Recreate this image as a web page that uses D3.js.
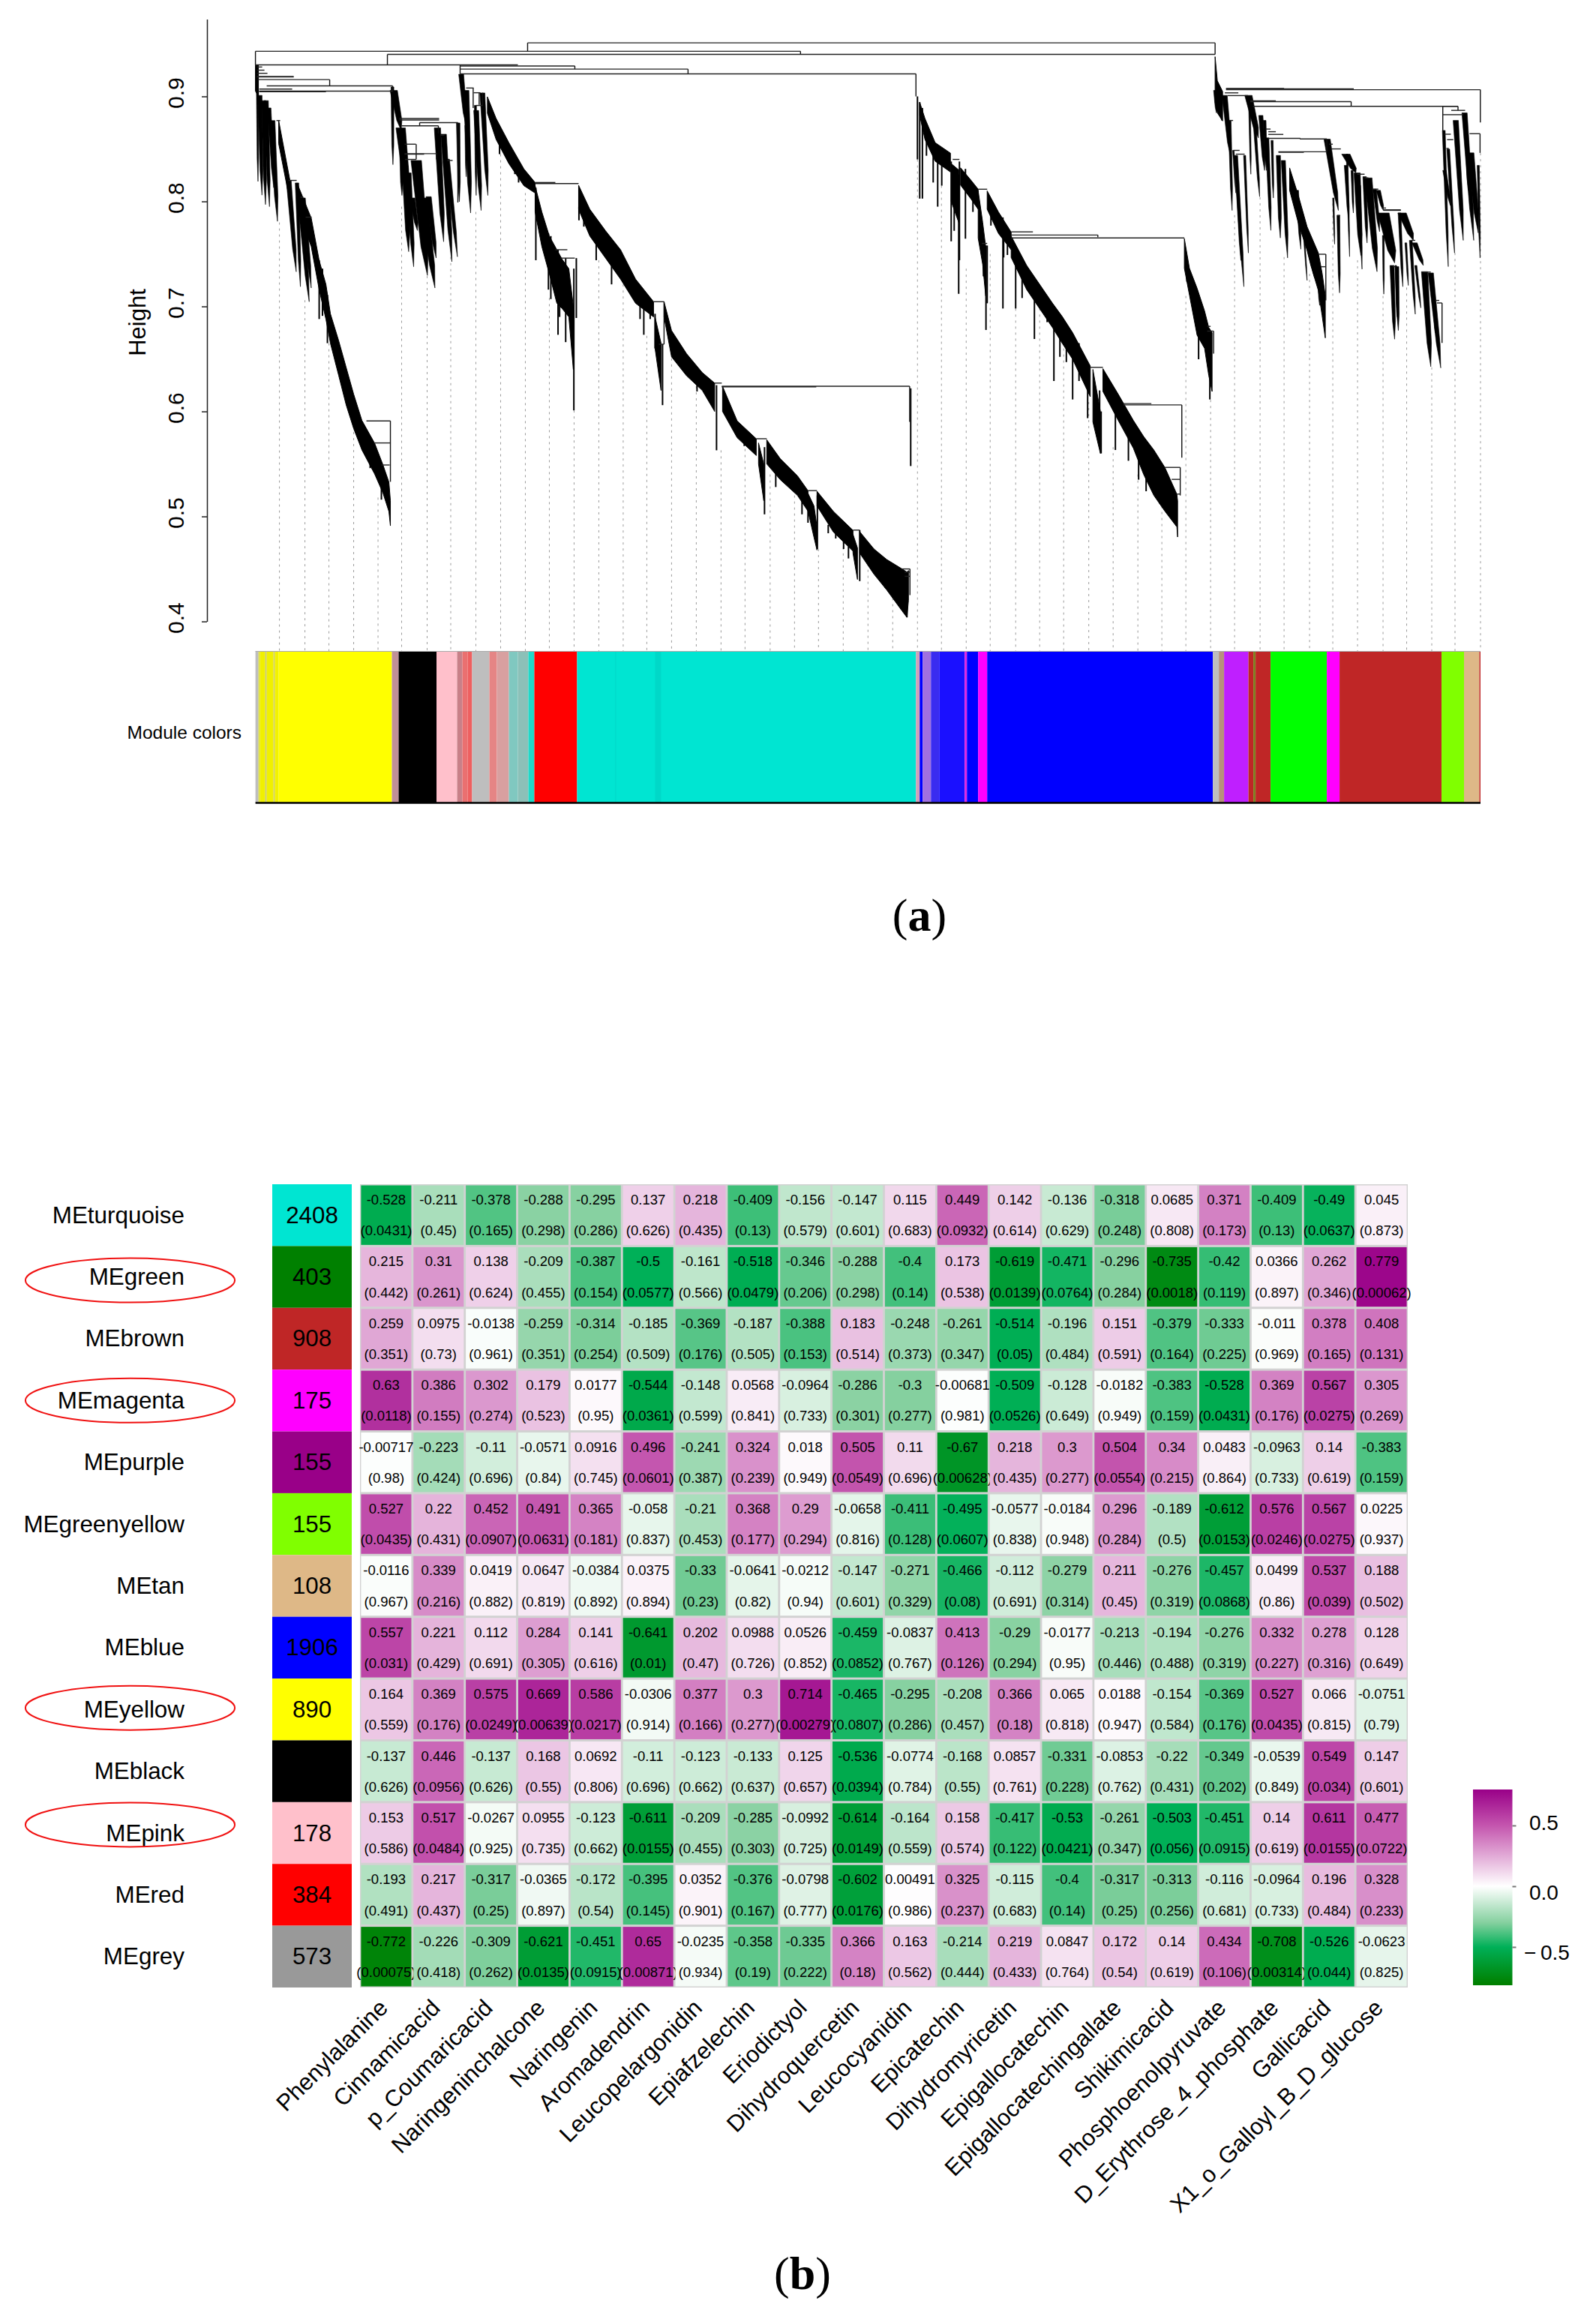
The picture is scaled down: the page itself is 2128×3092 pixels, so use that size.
<!DOCTYPE html>
<html>
<head>
<meta charset="utf-8">
<script src="https://cdnjs.cloudflare.com/ajax/libs/d3/7.8.5/d3.min.js"></script>
<style>
html, body { margin: 0; padding: 0; background: #fff; }
svg { display: block; }
text { font-family: "Liberation Sans", Arial, sans-serif; fill: #000; }
</style>
</head>
<body>
<svg id="figure" width="2128" height="3092"></svg>
<script>
// =============================================================================
// Panel (a): gene dendrogram + module colors. Panel (b): module-trait heatmap
// =============================================================================

// --- panel (a) data: x is leaf position along the tree, y is merge height ---

const heightTicks = [0.4, 0.5, 0.6, 0.7, 0.8, 0.9];

// [x0, x1, height]
const treeBars = [
    [363, 1280, .951], [0, 727, .943], [176, 1280, .940], [0, 350, .930], [273, 426, .929], [273, 577, .926], [273, 881, .9215],
    [2, 9, .928], [2, 12, .925], [2, 16, .922], [2, 51, .919], [2, 51, .9185], [3, 99, .916], [15, 183, .91], [5, 49, .907], [5, 183, .905], [5, 94, .9045],
    [28, 33, .877], [44, 55, .82], [60, 64, .804], [67, 75, .785], [148, 180, .591], [158, 180, .570], [168, 179, .549],
    [192, 245, .879], [192, 245, .8775], [219, 270, .875], [195, 244, .872], [199, 214, .8545], [199, 242, .8455], [199, 225, .845], [199.5, 214.4, .840], [247, 252, .863], [256, 263, .839],
    [281, 291, .908], [291, 300, .9035], [294.4, 303, .8914], [373, 431, .817], [373, 400, .818], [400, 416, .754], [407, 426, .746],
    [531, 545, .7045], [538, 545, .664], [612.5, 622, .627], [622, 872.6, .624], [622, 748, .6235], [668, 682, .574], [737, 749, .5246], [797, 806, .487],
    [862, 873, .45], [866, 873, .447], [866, 873, .443],
    [930, 939, .84], [964, 976, .8116], [969, 976, .76], [1008, 1037, .771], [1008, 1123.6, .768], [1008, 1239, .7652], [1113.5, 1130.4, .642],
    [1157.6, 1235.6, .6062], [1157.6, 1195, .6075], [1213, 1233.5, .5467], [1222, 1233.5, .5353], [1229, 1233.5, .5213], [1269.5, 1274, .681], [1269.5, 1278, .6765],
    [1294.6, 1372, .9075], [1294.6, 1465, .9072], [1294.6, 1633.8, .9064], [1293, 1311, .9034], [1296.6, 1323.8, .9008], [1299, 1304, .8771], [1304.4, 1312.7, .8486], [1307.7, 1319.4, .845],
    [1327, 1361, .8957], [1327, 1461.5, .895], [1330.6, 1604, .8906], [1347.5, 1354, .8689], [1351, 1361, .8664], [1351, 1371, .8638], [1351, 1393.7, .86], [1393, 1429, .8595], [1364.5, 1429, .8473], [1364.5, 1398.4, .8468],
    [1417.7, 1427.7, .7497], [1421, 1427.7, .7378], [1432, 1437, .8545], [1434.4, 1447.7, .85], [1442.7, 1446.7, .7867],
    [1469.4, 1479.4, .8259], [1479.4, 1484.4, .8224], [1489.4, 1497.7, .8117], [1502, 1508, .7937], [1504.4, 1527.7, .792], [1504.4, 1527.7, .7915],
    [1541, 1547, .7629], [1557.7, 1567.7, .7327], [1574, 1579, .7057], [1576, 1582.7, .7033], [1517, 1521, .7379],
    [1583.7, 1604, .8906], [1583.7, 1611, .8826], [1595, 1613.5, .8867], [1586, 1594.4, .864], [1589.4, 1597.7, .8588], [1588.4, 1591.7, .8505], [1619.4, 1633.4, .8645]
];

// [x, top height, bottom height]
const treeLegs = [
    [363, .951, .943], [1280, .951, .940], [0, .943, .930], [727, .943, .940], [176, .940, .930], [426, .929, .926], [577, .926, .9215], [273, .930, .9215], [881, .9215, .900],
    [99, .916, .910], [183, .91, .905], [180, .591, .533], [219, .875, .872], [244, .872, .865], [270, .875, .799], [214.4, .8545, .84], [241.5, .8455, .84],
    [290.4, .908, .889], [298.4, .9035, .892], [303, .9035, .8914],
    [545, .7045, .664], [872.6, .624, .59], [1123.6, .768, .766], [1235.6, .6062, .556], [1233.5, .5467, .52], [1278, .6765, .655],
    [873, .45, .425], [1633.8, .9064, .8753], [1461.5, .895, .8906], [1604, .8906, .8868], [1429, .8595, .8473], [1427.7, .7497, .7057],
    [1582.7, .7033, .6652], [1583.7, .8906, .8676], [1633.4, .8645, .8462]
];

// thin hanging branches: [x, top height, bottom height]
const treeSpikes = [
    [85, .744, .688], [89.4, .736, .691], [96, .711, .665], [108, .665, .645], [118, .640, .625], [124, .627, .614], [136, .591, .583], [144, .584, .563], [153, .566, .546], [168, .533, .516],
    [325.6, .859, .845], [346, .836, .826], [351, .833, .818],
    [374, .813, .744], [380.6, .792, .767], [390.8, .7695, .716], [394, .767, .707], [403.6, .754, .673], [405.7, .736, .690], [413.8, .746, .666], [424.7, .736, .601], [428, .746, .689],
    [431.5, .795, .782], [438, .785, .776], [454.5, .772, .744], [468, .765, .75], [475, .754, .721], [483, .746, .733], [513, .708, .688], [518, .706, .673], [526.5, .698, .688],
    [533, .693, .66], [538.6, .665, .634], [543, .664, .606], [577, .647, .638], [589, .634, .619], [615, .625, .563],
    [652, .584, .567], [679, .566, .502], [694, .5455, .528], [729, .52, .502], [737, .515, .494], [749.5, .52, .469],
    [764, .492, .484], [774, .484, .479], [784.5, .479, .469], [791, .4715, .46], [806, .487, .4384], [840, .446, .432], [849, .438, .4256], [856, .428, .418], [869, .43, .4039], [874, .622, .548],
    [883, .90, .84], [886, .8945, .8027], [889.6, .889, .8027], [895, .869, .8435], [904, .851, .818], [910, .846, .795], [915.4, .838, .815],
    [928, .838, .762], [932, .828, .772], [938, .8256, .712], [939, .838, .744], [947, .831, .7645], [957, .813, .79],
    [966, .7873, .7593], [971, .7593, .7287], [974.4, .758, .6776], [976, .758, .703], [981, .7873, .777], [997, .7848, .698], [998, .7746, .7466], [1003, .772, .749],
    [1014, .739, .698], [1022.6, .7363, .708], [1039, .7236, .669], [1056, .7032, .685], [1065, .7, .629], [1073, .677, .652], [1081.6, .672, .647], [1090, .672, .6114], [1098.5, .665, .629], [1110, .6395, .5936],
    [1126, .62, .566], [1128, .60, .56], [1147, .60, .5633], [1164.4, .58, .553], [1178, .566, .535], [1188, .553, .524], [1206.4, .54, .512], [1215, .5276, .5047],
    [1242.4, .7363, .7236], [1258, .675, .6497], [1273, .6548, .6114]
];

// tapered fans of leaves: [x top, height top, x tip, height tip, width]
const treeBlades = [
    [2.7, .906, 3.4, .819, 2], [6, .901, 8.7, .806, 4], [11, .896, 13.4, .797, 4], [14.4, .896, 18.7, .795, 4], [18.4, .889, 24.4, .813, 3.3], [22.7, .877, 29.4, .781, 4.7],
    [43, .82, 44, .807, 1.5], [44.4, .82, 54.4, .733, 4.7], [55.4, .8176, 60, .7188, 3.3], [59.4, .8033, 71.7, .7045, 4.7], [63.7, .8033, 74.4, .7176, 4],
    [182.7, .909, 183.4, .835, 2.7], [184.4, .9057, 194.4, .8676, 7], [193.7, .87, 202.7, .8104, 9], [194.4, .8557, 195.4, .8057, 3.3], [199.4, .834, 204.4, .7521, 6],
    [204.4, .8271, 211, .7378, 4.7], [209.4, .8033, 216, .7723, 4.7], [214.4, .839, 229.4, .7295, 10], [224.4, .8033, 239.4, .7176, 7], [231, .8045, 241, .7461, 5],
    [242.7, .87, 251, .7616, 6], [251, .864, 262, .7426, 5.3], [256, .8402, 269.4, .7473, 4], [270.4, .8747, 272, .7997, 3.3],
    [274.4, .9211, 281, .8723, 4.7], [281, .9057, 287, .789, 5.3], [280.4, .8723, 281, .8235, 1.5], [294.4, .8866, 301, .7914, 4.7], [293.4, .8914, 294.4, .8057, 2], [302.7, .9033, 310, .8057, 4.7],
    [1279.4, .9057, 1281.7, .8843, 2], [1283.7, .9057, 1288.7, .8771, 2.7], [1292.7, .901, 1301, .8414, 5], [1299.4, .8771, 1302.7, .7914, 2.7], [1307.7, .8438, 1318.4, .7188, 3.3], [1309.4, .8152, 1314.4, .7438, 2], [1319.4, .8438, 1324.4, .7509, 2], [1304.4, .8486, 1307.7, .808, 1.5],
    [1324.4, .901, 1337.7, .8605, 7], [1326, .889, 1327.7, .8259, 1.7], [1332.7, .875, 1339.4, .8045, 2.7], [1341, .8819, 1346, .8295, 4], [1346, .8771, 1348.4, .8295, 2.7],
    [1349.4, .8605, 1354.4, .7724, 3.3], [1356, .8581, 1357.7, .8033, 2], [1364.4, .8438, 1367, .7652, 4], [1371, .839, 1376.7, .7462, 4],
    [1389.4, .8105, 1394.4, .7545, 2.7], [1397.7, .7771, 1402.7, .7248, 1.3], [1407.7, .7457, 1412.7, .7271, 1.5], [1417.7, .7271, 1419.4, .701, 1.5],
    [1429.4, .8593, 1444.4, .7914, 6], [1444.4, .7867, 1446, .7129, 2.7], [1437.7, .8033, 1439.4, .7593, 1.3],
    [1456, .845, 1459.4, .7474, 1.5], [1454.4, .8343, 1458.4, .7819, 3], [1462.7, .8295, 1464.4, .789, 2], [1454.4, .845, 1467.7, .8271, 8],
    [1469.4, .8271, 1474.4, .7486, 6], [1472.7, .8152, 1476, .7355, 2], [1479.4, .8236, 1482.7, .7605, 3.3], [1484.4, .8224, 1496, .7331, 7], [1492.7, .8117, 1499.4, .7712, 3.3], [1497.7, .8105, 1504.4, .7914, 4],
    [1504.4, .789, 1519.4, .7414, 11], [1504.4, .7676, 1505, .7117, 1.7], [1516, .739, 1519.4, .6688, 4], [1522.7, .7379, 1524.4, .6771, 3.3], [1521, .739, 1522.7, .6902, 1.5],
    [1526, .789, 1530.4, .7188, 2.7], [1529.4, .789, 1544.4, .7629, 8], [1534.4, .7605, 1537.7, .72, 1.7], [1541, .7629, 1547, .6926, 2.7], [1546, .7605, 1557.7, .739, 5], [1547.7, .739, 1554.4, .6986, 2],
    [1559.4, .7331, 1567.7, .6426, 6], [1567.7, .7319, 1581, .6414, 5], [1572.7, .6962, 1573.7, .6748, 1.5],
    [1585, .8676, 1591, .7379, 2.7], [1586, .8295, 1593.7, .7962, 3.3], [1591, .8498, 1599.4, .7509, 2.7], [1601, .8771, 1611, .7629, 5], [1612.7, .8843, 1625, .7629, 5], [1616, .8581, 1617.7, .8105, 2.7], [1621, .8462, 1631, .77, 6], [1631, .8343, 1633.4, .7462, 2]
];

// dense runs of the tree, each a list of [x, top height, bottom height]
const treeBands = [
    [[0, .93, .905], [4, .93, .90]],
    [[31, .877, .855], [46, .82, .80]],
    [[55.4, .8176, .795], [74.4, .7842, .757], [85, .7438, .7159], [94, .721, .6878], [100, .693, .6649], [111, .6674, .6343], [121, .6419, .6062], [131, .6164, .5837], [142, .5914, .5633], [159, .5697, .5404], [170, .5493, .5225], [178, .5327, .5047], [180, .5149, .4911]],
    [[309.4, .8996, .884], [321, .879, .859], [338, .856, .836], [358, .831, .815], [373, .818, .808]],
    [[373, .815, .79], [382, .79, .757], [392, .767, .731], [402, .754, .703], [409, .745, .698], [418, .736, .69], [424, .70, .64]],
    [[431, .8154, .7925], [446, .7925, .767], [467, .772, .746], [487, .754, .726], [507, .726, .703], [531, .7045, .690]],
    [[533, .69, .66], [541, .665, .62]],
    [[545, .7045, .69], [555, .677, .652], [575, .655, .634], [596, .637, .62], [612.5, .627, .60]],
    [[623, .624, .60], [642.5, .591, .575], [668, .574, .558]],
    [[671, .57, .55], [678, .55, .515]],
    [[682, .573, .55], [700, .555, .535], [723, .5386, .52], [737, .5245, .505]],
    [[737, .522, .505], [745, .51, .48], [749, .49, .468]],
    [[749, .524, .51], [771, .5047, .485], [797, .4868, .467]],
    [[797, .483, .465], [803, .47, .44]],
    [[806, .4855, .465], [825, .469, .445], [842, .459, .43], [862.5, .45, .41], [869, .447, .4039], [871, .4485, .42]],
    [[886, .8945, .882], [893, .879, .859], [906.6, .856, .8383], [927, .846, .828]],
    [[928, .836, .80], [938, .83, .78]],
    [[940.5, .832, .8155], [954, .8205, .8027], [964, .8116, .7925]],
    [[964, .81, .765], [970, .78, .74], [974, .757, .71]],
    [[976, .81, .7925], [991, .79, .7695], [1008, .7708, .754]],
    [[1008, .767, .7466], [1028.7, .739, .716], [1063, .7032, .680], [1076, .6905, .665], [1090, .675, .6497], [1113.5, .6433, .614]],
    [[1117, .64, .59], [1127, .60, .56]],
    [[1130.4, .6407, .619], [1150.8, .6164, .5914], [1171, .5914, .565], [1184.7, .5761, .54], [1198.3, .5633, .52], [1213, .5467, .505], [1229, .5212, .49], [1230, .515, .4804]],
    [[1239, .7645, .7363], [1245.8, .7363, .7108], [1256, .7173, .6726], [1266, .6956, .66], [1271.5, .68, .6343], [1276, .675, .619]],
    [[1280, .9378, .8945], [1283, .9149, .8843], [1290, .9047, .8766]],
    [[1379.4, .8319, .8105], [1391, .8057, .7795], [1402.7, .7759, .7533], [1407.7, .7676, .739], [1417.7, .751, .7152], [1422.7, .7319, .6914], [1427, .7105, .67]]
];

// dotted guides: [x, height where the guide leaves the tree]
const guideLines = [
    [32, .78], [66, .706], [98, .665], [131, .609], [163.5, .518], [195, .795], [229, .729], [260.5, .747], [294, .79], [327, .845],
    [360, .808], [392, .708], [425, .601], [458, .744], [490.5, .721], [522, .672], [555, .662], [588, .624], [621, .563], [653, .57],
    [686.5, .54], [719, .52], [751, .469], [784, .482], [817, .455], [850, .428], [883, .84], [915, .815], [948, .736], [980, .75],
    [1014, .698], [1046, .698], [1078, .66], [1111.5, .609], [1144, .566], [1177, .54], [1209, .51], [1241, .71], [1274, .611], [1306, .787],
    [1340, .804], [1372, .747], [1406, .731], [1437, .798], [1470, .744], [1504, .71], [1535.5, .718], [1569, .642], [1600, .751], [1634, .846]
];

// module color strip: [color, x0, x1]
const moduleStrip = [
    ["#bebebe", 0, 4], ["#d8d840", 4, 6], ["#f0f000", 6, 13], ["#c8c860", 13, 15], ["#f0f000", 15, 24], ["#d0d050", 24, 26], ["#f2f200", 26, 31],
    ["#ffff00", 31, 182], ["#c09098", 182, 191], ["#000000", 191, 241.5], ["#ffc0cb", 241.5, 269], ["#c88088", 269, 276], ["#ea7070", 276, 283], ["#ee6060", 283, 289],
    ["#bebebe", 289, 312], ["#e58585", 312, 322], ["#d8a0a0", 322, 338], ["#80c8c0", 338, 350], ["#8cc0b8", 350, 364], ["#20d8c8", 364, 372], ["#ff0000", 372, 429],
    ["#00e5d2", 429, 881], ["#00d8c8", 480, 481], ["#00d8c8", 533, 541],
    ["#d0a0b8", 881, 886], ["#0000ff", 886, 890], ["#a070e0", 890, 901], ["#3a2cf0", 901, 912], ["#1a10ff", 912, 946], ["#e020e0", 946, 949], ["#0000ff", 949, 964], ["#ff00ff", 964, 976],
    ["#0000ff", 976, 1277], ["#bebebe", 1277, 1285], ["#b8907c", 1285, 1292], ["#bf1fff", 1292, 1324.5], ["#bf2626", 1324.5, 1331], ["#7f7f20", 1331, 1334], ["#bf2626", 1334, 1354],
    ["#00ff00", 1354, 1429], ["#ff00ff", 1429, 1446], ["#bf2626", 1446, 1582], ["#80ff00", 1582, 1612], ["#deb887", 1612, 1632.5], ["#bf2626", 1632.5, 1634]
];

// --- panel (b) data ---

const moduleNames = ["MEturquoise", "MEgreen", "MEbrown", "MEmagenta", "MEpurple", "MEgreenyellow", "MEtan", "MEblue", "MEyellow", "MEblack", "MEpink", "MEred", "MEgrey"];
const moduleColors = ["#00e5d2", "#008000", "#bf2626", "#ff00ff", "#990088", "#80ff00", "#deb887", "#0000ff", "#ffff00", "#000000", "#ffc0cb", "#ff0000", "#999999"];
const moduleSizes = ["2408", "403", "908", "175", "155", "155", "108", "1906", "890", "", "178", "384", "573"];

const traitNames = ["Phenylalanine", "Cinnamicacid", "p_Coumaricacid", "Naringeninchalcone", "Naringenin", "Aromadendrin", "Leucopelargonidin", "Epiafzelechin", "Eriodictyol", "Dihydroquercetin", "Leucocyanidin", "Epicatechin", "Dihydromyricetin", "Epigallocatechin", "Epigallocatechingallate", "Shikimicacid", "Phosphoenolpyruvate", "D_Erythrose_4_phosphate", "Gallicacid", "X1_o_Galloyl_B_D_glucose"];

const correlations = [
    [-0.528, -0.211, -0.378, -0.288, -0.295, 0.137, 0.218, -0.409, -0.156, -0.147, 0.115, 0.449, 0.142, -0.136, -0.318, 0.0685, 0.371, -0.409, -0.49, 0.045],
    [0.215, 0.31, 0.138, -0.209, -0.387, -0.5, -0.161, -0.518, -0.346, -0.288, -0.4, 0.173, -0.619, -0.471, -0.296, -0.735, -0.42, 0.0366, 0.262, 0.779],
    [0.259, 0.0975, -0.0138, -0.259, -0.314, -0.185, -0.369, -0.187, -0.388, 0.183, -0.248, -0.261, -0.514, -0.196, 0.151, -0.379, -0.333, -0.011, 0.378, 0.408],
    [0.63, 0.386, 0.302, 0.179, 0.0177, -0.544, -0.148, 0.0568, -0.0964, -0.286, -0.3, -0.00681, -0.509, -0.128, -0.0182, -0.383, -0.528, 0.369, 0.567, 0.305],
    [-0.00717, -0.223, -0.11, -0.0571, 0.0916, 0.496, -0.241, 0.324, 0.018, 0.505, 0.11, -0.67, 0.218, 0.3, 0.504, 0.34, 0.0483, -0.0963, 0.14, -0.383],
    [0.527, 0.22, 0.452, 0.491, 0.365, -0.058, -0.21, 0.368, 0.29, -0.0658, -0.411, -0.495, -0.0577, -0.0184, 0.296, -0.189, -0.612, 0.576, 0.567, 0.0225],
    [-0.0116, 0.339, 0.0419, 0.0647, -0.0384, 0.0375, -0.33, -0.0641, -0.0212, -0.147, -0.271, -0.466, -0.112, -0.279, 0.211, -0.276, -0.457, 0.0499, 0.537, 0.188],
    [0.557, 0.221, 0.112, 0.284, 0.141, -0.641, 0.202, 0.0988, 0.0526, -0.459, -0.0837, 0.413, -0.29, -0.0177, -0.213, -0.194, -0.276, 0.332, 0.278, 0.128],
    [0.164, 0.369, 0.575, 0.669, 0.586, -0.0306, 0.377, 0.3, 0.714, -0.465, -0.295, -0.208, 0.366, 0.065, 0.0188, -0.154, -0.369, 0.527, 0.066, -0.0751],
    [-0.137, 0.446, -0.137, 0.168, 0.0692, -0.11, -0.123, -0.133, 0.125, -0.536, -0.0774, -0.168, 0.0857, -0.331, -0.0853, -0.22, -0.349, -0.0539, 0.549, 0.147],
    [0.153, 0.517, -0.0267, 0.0955, -0.123, -0.611, -0.209, -0.285, -0.0992, -0.614, -0.164, 0.158, -0.417, -0.53, -0.261, -0.503, -0.451, 0.14, 0.611, 0.477],
    [-0.193, 0.217, -0.317, -0.0365, -0.172, -0.395, 0.0352, -0.376, -0.0798, -0.602, 0.00491, 0.325, -0.115, -0.4, -0.317, -0.313, -0.116, -0.0964, 0.196, 0.328],
    [-0.772, -0.226, -0.309, -0.621, -0.451, 0.65, -0.0235, -0.358, -0.335, 0.366, 0.163, -0.214, 0.219, 0.0847, 0.172, 0.14, 0.434, -0.708, -0.526, -0.0623]
];

const pValues = [
    [0.0431, 0.45, 0.165, 0.298, 0.286, 0.626, 0.435, 0.13, 0.579, 0.601, 0.683, 0.0932, 0.614, 0.629, 0.248, 0.808, 0.173, 0.13, 0.0637, 0.873],
    [0.442, 0.261, 0.624, 0.455, 0.154, 0.0577, 0.566, 0.0479, 0.206, 0.298, 0.14, 0.538, 0.0139, 0.0764, 0.284, 0.0018, 0.119, 0.897, 0.346, 0.00062],
    [0.351, 0.73, 0.961, 0.351, 0.254, 0.509, 0.176, 0.505, 0.153, 0.514, 0.373, 0.347, 0.05, 0.484, 0.591, 0.164, 0.225, 0.969, 0.165, 0.131],
    [0.0118, 0.155, 0.274, 0.523, 0.95, 0.0361, 0.599, 0.841, 0.733, 0.301, 0.277, 0.981, 0.0526, 0.649, 0.949, 0.159, 0.0431, 0.176, 0.0275, 0.269],
    [0.98, 0.424, 0.696, 0.84, 0.745, 0.0601, 0.387, 0.239, 0.949, 0.0549, 0.696, 0.00628, 0.435, 0.277, 0.0554, 0.215, 0.864, 0.733, 0.619, 0.159],
    [0.0435, 0.431, 0.0907, 0.0631, 0.181, 0.837, 0.453, 0.177, 0.294, 0.816, 0.128, 0.0607, 0.838, 0.948, 0.284, 0.5, 0.0153, 0.0246, 0.0275, 0.937],
    [0.967, 0.216, 0.882, 0.819, 0.892, 0.894, 0.23, 0.82, 0.94, 0.601, 0.329, 0.08, 0.691, 0.314, 0.45, 0.319, 0.0868, 0.86, 0.039, 0.502],
    [0.031, 0.429, 0.691, 0.305, 0.616, 0.01, 0.47, 0.726, 0.852, 0.0852, 0.767, 0.126, 0.294, 0.95, 0.446, 0.488, 0.319, 0.227, 0.316, 0.649],
    [0.559, 0.176, 0.0249, 0.00639, 0.0217, 0.914, 0.166, 0.277, 0.00279, 0.0807, 0.286, 0.457, 0.18, 0.818, 0.947, 0.584, 0.176, 0.0435, 0.815, 0.79],
    [0.626, 0.0956, 0.626, 0.55, 0.806, 0.696, 0.662, 0.637, 0.657, 0.0394, 0.784, 0.55, 0.761, 0.228, 0.762, 0.431, 0.202, 0.849, 0.034, 0.601],
    [0.586, 0.0484, 0.925, 0.735, 0.662, 0.0155, 0.455, 0.303, 0.725, 0.0149, 0.559, 0.574, 0.122, 0.0421, 0.347, 0.056, 0.0915, 0.619, 0.0155, 0.0722],
    [0.491, 0.437, 0.25, 0.897, 0.54, 0.145, 0.901, 0.167, 0.777, 0.0176, 0.986, 0.237, 0.683, 0.14, 0.25, 0.256, 0.681, 0.733, 0.484, 0.233],
    [0.00075, 0.418, 0.262, 0.0135, 0.0915, 0.00871, 0.934, 0.19, 0.222, 0.18, 0.562, 0.444, 0.433, 0.764, 0.54, 0.619, 0.106, 0.00314, 0.044, 0.825]
];

// red rings round the picked modules: [module, fraction down its row]
const ringedModules = [["MEgreen", 0.555], ["MEmagenta", 0.5], ["MEyellow", 0.475], ["MEpink", 0.365]];

const colorStops = [-0.8, -0.5, -0.3, 0, 0.5, 0.8];
const colorRamp = ["#008000", "#00b058", "#85d09f", "#ffffff", "#c455ae", "#990088"];
const legendTicks = [-0.5, 0, 0.5];
const legendLabels = ["\u2212\u20090.5", "0.0", "0.5"];
const legendLabelShift = [8, 9, -3];

// =============================================================================

const svg = d3.select("#figure");

// --- Panel (a) ---

const xLeaf = d3.scaleLinear().domain([0, 1634]).range([340.6, 1974]);
const yHeight = d3.scaleLinear().domain([0.4, 0.9736]).range([828.6, 25.5]);

const treeGroup = svg.append("g");

treeGroup.selectAll("line.guide")
    .data(guideLines)
    .join("line")
    .attr("class", "guide")
    .attr("x1", d => xLeaf(d[0])).attr("x2", d => xLeaf(d[0]))
    .attr("y1", d => yHeight(d[1])).attr("y2", 868)
    .attr("stroke", "#9a9a9a")
    .attr("stroke-width", 1)
    .attr("stroke-dasharray", "3,5");

const bandArea = d3.area()
    .x(d => xLeaf(d[0]))
    .y0(d => yHeight(d[1]))
    .y1(d => yHeight(d[2]));

treeGroup.selectAll("path.band")
    .data(treeBands)
    .join("path")
    .attr("class", "band")
    .attr("d", bandArea)
    .attr("fill", "#000")
    .attr("stroke", "#000")
    .attr("stroke-width", 1);

// A blade keeps its body most of the way down, then closes to the tip
const bladeOutline = ([x0, h0, x1, h1, w0]) => {
    const w = w0 * 1.4;
    const hMid = h0 + (h1 - h0) * 0.75;
    const xMid = x0 + (x1 - x0) * 0.75;
    const pts = [[x0 - w / 2, h0], [x0 + w / 2, h0], [xMid + w * 0.35, hMid], [x1, h1], [xMid - w * 0.35, hMid]];
    return d3.line().x(p => xLeaf(p[0])).y(p => yHeight(p[1]))(pts) + "Z";
};

treeGroup.selectAll("path.blade")
    .data(treeBlades)
    .join("path")
    .attr("class", "blade")
    .attr("d", bladeOutline)
    .attr("fill", "#000")
    .attr("stroke", "#000")
    .attr("stroke-width", 0.6);

treeGroup.selectAll("line.spike")
    .data(treeSpikes)
    .join("line")
    .attr("class", "spike")
    .attr("x1", d => xLeaf(d[0])).attr("x2", d => xLeaf(d[0]))
    .attr("y1", d => yHeight(d[1])).attr("y2", d => yHeight(d[2]))
    .attr("stroke", "#000")
    .attr("stroke-width", 2);

treeGroup.selectAll("line.leg")
    .data(treeLegs)
    .join("line")
    .attr("class", "leg")
    .attr("x1", d => xLeaf(d[0])).attr("x2", d => xLeaf(d[0]))
    .attr("y1", d => yHeight(d[1])).attr("y2", d => yHeight(d[2]))
    .attr("stroke", "#111")
    .attr("stroke-width", 1.4);

treeGroup.selectAll("line.bar")
    .data(treeBars)
    .join("line")
    .attr("class", "bar")
    .attr("x1", d => xLeaf(d[0])).attr("x2", d => xLeaf(d[1]))
    .attr("y1", d => yHeight(d[2])).attr("y2", d => yHeight(d[2]))
    .attr("stroke", "#222")
    .attr("stroke-width", 1.4);

// Height axis, R style with rotated labels
const heightAxis = svg.append("g")
    .attr("transform", "translate(276,0)")
    .call(d3.axisLeft(yHeight).tickValues(heightTicks).tickFormat(d3.format(".1f")).tickSize(7).tickSizeOuter(0));
heightAxis.select(".domain").attr("stroke", "#222").attr("stroke-width", 1.5);
heightAxis.selectAll(".tick line").attr("stroke", "#222").attr("stroke-width", 1.5);
heightAxis.selectAll(".tick text")
    .attr("x", 0).attr("dy", null)
    .attr("transform", "translate(-42,-5) rotate(-90)")
    .attr("text-anchor", "middle")
    .attr("dominant-baseline", "central")
    .style("font-family", "Liberation Sans")
    .style("font-size", "30px");

svg.append("text")
    .attr("transform", "translate(183,430) rotate(-90)")
    .attr("text-anchor", "middle")
    .attr("dominant-baseline", "central")
    .style("font-size", "31px")
    .text("Height");

svg.selectAll("rect.strip")
    .data(moduleStrip)
    .join("rect")
    .attr("class", "strip")
    .attr("x", d => xLeaf(d[1]))
    .attr("width", d => xLeaf(d[2]) - xLeaf(d[1]))
    .attr("y", 868).attr("height", 202)
    .attr("fill", d => d[0]);

svg.append("line").attr("x1", xLeaf(0)).attr("x2", xLeaf(1634)).attr("y1", 868.5).attr("y2", 868.5)
    .attr("stroke", "#aaa").attr("stroke-width", 1);
svg.append("line").attr("x1", xLeaf(0)).attr("x2", xLeaf(1634)).attr("y1", 1070.5).attr("y2", 1070.5)
    .attr("stroke", "#000").attr("stroke-width", 2.5);

svg.append("text")
    .attr("x", 322).attr("y", 976)
    .attr("text-anchor", "end")
    .attr("dominant-baseline", "central")
    .style("font-size", "24.5px")
    .text("Module colors");

// --- Panel (b) ---

const xTrait = d3.scaleBand().domain(traitNames).range([480, 1877]);
const yModule = d3.scaleBand().domain(moduleNames).range([1579, 2650]);
const cellColor = d3.scaleLinear().domain(colorStops).range(colorRamp);
const cellW = xTrait.bandwidth();
const cellH = yModule.bandwidth();

svg.append("rect")
    .attr("x", 480).attr("y", 1579)
    .attr("width", 1397).attr("height", 1071)
    .attr("fill", "#d2d2d2");

const rowGroups = svg.selectAll("g.row")
    .data(moduleNames)
    .join("g")
    .attr("class", "row")
    .attr("transform", d => `translate(0,${yModule(d)})`);

rowGroups.append("text")
    .attr("x", 246).attr("y", cellH / 2)
    .attr("text-anchor", "end")
    .attr("dominant-baseline", "central")
    .style("font-size", "31.4px")
    .text(d => d);

rowGroups.append("rect")
    .attr("x", 363).attr("width", 106)
    .attr("height", cellH)
    .attr("fill", (d, i) => moduleColors[i]);

rowGroups.append("text")
    .attr("x", 416).attr("y", cellH / 2)
    .attr("text-anchor", "middle")
    .attr("dominant-baseline", "central")
    .style("font-size", "31.3px")
    .text((d, i) => moduleSizes[i]);

traitNames.forEach((trait, j) => {
    const col = rowGroups.append("g")
        .attr("transform", `translate(${xTrait(trait)},0)`);

    col.append("rect")
        .attr("x", 1.4).attr("y", 1.5)
        .attr("width", cellW - 2.8).attr("height", cellH - 3)
        .attr("fill", (d, i) => cellColor(correlations[i][j]));

    col.append("text")
        .attr("x", cellW / 2).attr("y", cellH * 0.25)
        .attr("text-anchor", "middle")
        .attr("dominant-baseline", "central")
        .style("font-size", "18.5px")
        .text((d, i) => correlations[i][j]);

    col.append("text")
        .attr("x", cellW / 2).attr("y", cellH * 0.75)
        .attr("text-anchor", "middle")
        .attr("dominant-baseline", "central")
        .style("font-size", "18.5px")
        .text((d, i) => `(${pValues[i][j]})`);
});

svg.selectAll("ellipse.ring")
    .data(ringedModules)
    .join("ellipse")
    .attr("class", "ring")
    .attr("cx", 173.5)
    .attr("cy", d => yModule(d[0]) + cellH * d[1])
    .attr("rx", 139.6).attr("ry", 29.5)
    .attr("fill", "none")
    .attr("stroke", "#f01010")
    .attr("stroke-width", 2);

svg.selectAll("text.trait")
    .data(traitNames)
    .join("text")
    .attr("class", "trait")
    .attr("transform", d => `translate(${xTrait(d) + cellW / 2 + 4},2679) rotate(-45)`)
    .attr("text-anchor", "end")
    .style("font-size", "31px")
    .text(d => d);

// Color key
const yLegend = d3.scaleLinear().domain([-0.815, 0.796]).range([2647, 2386]);
const legendGradient = svg.append("defs").append("linearGradient")
    .attr("id", "legendRamp")
    .attr("x1", 0).attr("x2", 0).attr("y1", 1).attr("y2", 0);
legendGradient.selectAll("stop")
    .data(colorStops)
    .join("stop")
    .attr("offset", d => (d + 0.815) / (0.796 + 0.815))
    .attr("stop-color", (d, i) => colorRamp[i]);

svg.append("rect")
    .attr("x", 1964).attr("y", 2386)
    .attr("width", 52.5).attr("height", 261)
    .attr("fill", "url(#legendRamp)");

const legendAxis = svg.append("g")
    .attr("transform", "translate(2016.5,0)")
    .call(d3.axisRight(yLegend).tickValues(legendTicks).tickSize(5).tickFormat(""));
legendAxis.select(".domain").remove();
legendAxis.selectAll(".tick line").attr("stroke", "#777").attr("stroke-width", 2);

svg.selectAll("text.legendLabel")
    .data(legendTicks)
    .join("text")
    .attr("class", "legendLabel")
    .attr("x", d => d < 0 ? 2032 : 2039)
    .attr("y", (d, i) => yLegend(d) + legendLabelShift[i])
    .attr("dominant-baseline", "central")
    .style("font-size", "28px")
    .text((d, i) => legendLabels[i]);

// Panel letters
[["a", 1226, 1241], ["b", 1070, 3052]].forEach(([letter, x, y]) => {
    const label = svg.append("text")
        .attr("x", x).attr("y", y)
        .attr("text-anchor", "middle")
        .style("font-family", "Liberation Serif")
        .style("font-size", "62px");
    label.append("tspan").text("(");
    label.append("tspan").style("font-weight", "bold").text(letter);
    label.append("tspan").text(")");
});
</script>
</body>
</html>
